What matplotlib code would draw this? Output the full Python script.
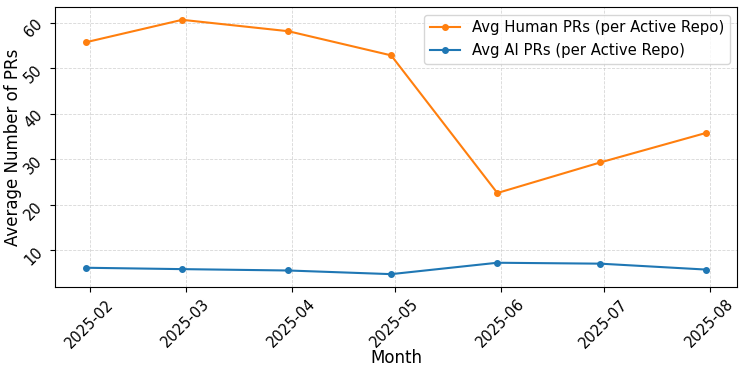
import matplotlib
matplotlib.use("Agg")
import matplotlib.pyplot as plt
import matplotlib.dates as mdates
import pandas as pd

# month-end dates
months = pd.to_datetime(["2025-01-31", "2025-02-28", "2025-03-31", "2025-04-30",
                         "2025-05-31", "2025-06-30", "2025-07-31"])
human_prs = [55.7, 60.6, 58.1, 52.8, 22.6, 29.3, 35.8]
ai_prs = [6.2, 5.9, 5.6, 4.8, 7.3, 7.1, 5.8]

fig, ax = plt.subplots(figsize=(7.47, 3.74), dpi=100)
ax.plot(months, human_prs, marker="o", markersize=4, color="#ff7f0e",
        label="Avg Human PRs (per Active Repo)")
ax.plot(months, ai_prs, marker="o", markersize=4, color="#1f77b4",
        label="Avg AI PRs (per Active Repo)")

ax.xaxis.set_major_locator(mdates.MonthLocator())
ax.xaxis.set_major_formatter(mdates.DateFormatter("%Y-%m"))
ax.tick_params(axis="x", labelsize=10.5, rotation=45)
ax.tick_params(axis="y", labelsize=10.5, rotation=45)
ax.set_xlabel("Month", fontsize=12, labelpad=-1)
ax.set_ylabel("Average Number of PRs", fontsize=12, labelpad=0)
ax.grid(True, linestyle="--", linewidth=0.6, alpha=0.5)
ax.legend(fontsize=10.7, loc="upper right")

fig.subplots_adjust(left=0.074, right=0.987, top=0.981, bottom=0.233)
fig.savefig("out.png", dpi=100)
